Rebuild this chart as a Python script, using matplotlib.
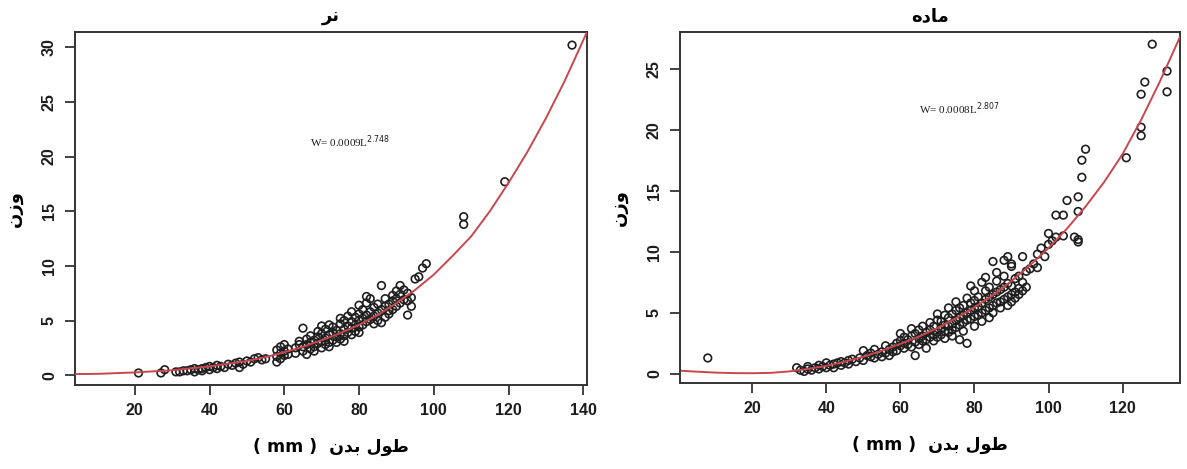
import matplotlib
matplotlib.use("Agg")
import matplotlib.pyplot as plt
import numpy as np

plt.rcParams['font.family'] = ['Liberation Sans', 'DejaVu Sans']

# ---- data ----
# left panel: males (نر)
male_len = [21, 27, 28, 31, 32, 33, 34, 35, 36, 36, 37, 38, 38, 39, 40, 40, 41, 42, 42, 43,
            44, 45, 46, 47, 48, 48, 49, 50, 51, 52, 53, 54, 55,
            58, 58, 58, 59, 59, 59, 60, 60, 60, 61, 61,
            63, 63, 64, 64, 65, 65, 65, 66, 66, 66, 67, 67, 67, 68, 68, 68, 69, 69, 69, 70, 70, 70, 70,
            71, 71, 71, 72, 72, 72, 72, 73, 73, 73, 74, 74, 74, 75, 75, 75, 75, 76, 76, 76, 76,
            77, 77, 77, 78, 78, 78, 78, 79, 79, 79, 80, 80, 80, 80, 80,
            81, 81, 81, 82, 82, 82, 82, 83, 83, 83, 84, 84, 84, 85, 85, 85, 86, 86, 86, 87, 87, 87,
            88, 88, 88, 89, 89, 89, 90, 90, 90, 91, 91, 91, 92, 92, 93, 93, 93, 94, 94,
            95, 96, 97, 98, 108, 108, 119, 137]
male_wt = [0.2, 0.2, 0.5, 0.3, 0.3, 0.4, 0.4, 0.5, 0.3, 0.6, 0.5, 0.6, 0.4, 0.7, 0.5, 0.8, 0.7, 0.6, 0.9, 0.8,
           0.7, 1.0, 0.9, 1.1, 0.7, 1.2, 1.0, 1.3, 1.2, 1.5, 1.6, 1.4, 1.5,
           1.2, 1.7, 2.3, 1.5, 2.0, 2.6, 1.8, 2.2, 2.8, 1.9, 2.4,
           2.5, 2.0, 2.8, 3.1, 4.3, 2.2, 2.6, 1.9, 2.8, 3.3, 2.4, 3.0, 3.6, 2.6, 3.2, 2.2, 2.9, 3.5, 4.0, 2.5, 3.1, 3.8, 4.5,
           2.8, 3.4, 4.2, 3.0, 3.7, 4.6, 2.6, 3.2, 3.9, 4.4, 3.0, 3.5, 4.1, 3.3, 3.8, 4.7, 5.2, 3.6, 4.2, 5.0, 3.1,
           3.9, 4.5, 5.4, 3.7, 4.3, 4.9, 5.8, 4.0, 4.6, 5.3, 4.4, 5.0, 5.6, 6.4, 3.9,
           4.6, 5.2, 6.0, 4.9, 5.5, 6.6, 7.2, 5.1, 5.8, 7.0, 4.7, 5.4, 6.2, 5.0, 5.7, 6.5, 4.8, 6.0, 8.2, 5.3, 6.3, 7.0,
           5.6, 6.5, 5.9, 6.0, 6.8, 7.3, 6.3, 7.0, 7.7, 6.6, 7.4, 8.2, 6.9, 7.8, 5.5, 6.8, 7.5, 6.3, 7.1,
           8.8, 9.0, 9.8, 10.2, 13.8, 14.5, 17.7, 30.2]

# right panel: females (ماده)
female_len = [8,
              32, 33, 34, 35, 35, 36, 37, 38, 38, 39, 40, 40, 41, 42, 42, 43, 44, 44, 45, 46, 46, 47,
              48, 49, 50, 50, 51, 52, 52, 53, 53, 54, 55, 55, 56, 56, 57, 57,
              58, 58, 59, 59, 60, 60, 60, 61, 61, 61, 62, 62, 63, 63, 63, 64, 64, 64, 65, 65, 65,
              66, 66, 66, 67, 67, 67, 68, 68, 68, 69, 69, 69, 70, 70, 70, 70,
              71, 71, 71, 72, 72, 72, 72, 73, 73, 73, 73, 74, 74, 74, 74, 75, 75, 75, 75,
              76, 76, 76, 76, 77, 77, 77, 77, 78, 78, 78, 78, 79, 79, 79, 79, 80, 80, 80, 80, 80,
              81, 81, 81, 82, 82, 82, 82, 83, 83, 83, 83, 84, 84, 84, 84, 85, 85, 85, 85,
              86, 86, 86, 86, 87, 87, 87, 88, 88, 88, 88, 89, 89, 89, 89, 90, 90, 90, 90, 90,
              91, 91, 91, 92, 92, 92, 93, 93, 93, 94, 94, 95, 96, 97, 97, 98, 99, 100, 100,
              101, 102, 102, 104, 104, 105, 107, 108, 108, 108, 108, 109, 109, 110,
              121, 125, 125, 125, 126, 128, 132, 132]
female_wt = [1.3,
             0.5, 0.3, 0.2, 0.4, 0.6, 0.3, 0.5, 0.7, 0.4, 0.6, 0.5, 0.9, 0.7, 0.8, 0.5, 0.9, 1.0, 0.7, 0.9, 1.1, 0.8, 1.2,
             1.0, 1.3, 1.1, 1.9, 1.5, 1.4, 1.7, 2.0, 1.3, 1.6, 1.8, 1.4, 2.3, 1.7, 2.0, 1.5,
             2.2, 1.8, 2.5, 1.9, 2.3, 2.7, 3.3, 2.1, 2.5, 3.0, 2.4, 2.8, 2.2, 3.1, 3.7, 2.6, 1.5, 3.3, 2.9, 2.4, 3.6,
             2.7, 3.1, 3.9, 2.8, 3.4, 2.1, 3.0, 3.6, 4.2, 3.2, 2.7, 3.9, 3.4, 3.0, 4.4, 4.9,
             3.2, 3.7, 4.3, 3.5, 4.0, 4.8, 2.9, 3.4, 3.9, 4.6, 5.4, 3.6, 4.1, 4.9, 3.1, 3.8, 4.4, 5.2, 5.9,
             4.0, 4.6, 5.4, 2.8, 4.2, 4.8, 5.6, 3.5, 4.4, 5.0, 6.2, 2.5, 4.5, 5.2, 5.8, 7.2, 4.7, 5.4, 6.0, 3.9, 6.8,
             4.8, 5.5, 6.3, 5.0, 5.8, 7.5, 4.3, 5.2, 6.1, 6.8, 7.9, 5.4, 6.3, 4.6, 7.1, 5.6, 6.5, 9.2, 5.0,
             5.8, 6.7, 7.6, 8.3, 5.9, 6.9, 5.4, 6.1, 7.1, 9.3, 8.0, 6.3, 7.4, 5.6, 9.6, 6.5, 7.2, 8.8, 9.0, 5.9,
             6.7, 7.8, 6.2, 7.0, 8.0, 6.5, 6.8, 7.5, 9.6, 7.1, 8.4, 8.6, 9.0, 8.7, 9.8, 10.3, 9.6, 10.6, 11.5,
             10.9, 11.2, 13.0, 13.0, 11.3, 14.2, 11.2, 13.3, 14.5, 11.0, 10.8, 16.1, 17.5, 18.4,
             17.7, 19.5, 20.2, 22.9, 23.9, 27.0, 24.8, 23.1]

# fitted curves
male_fit_x = [4, 10, 20, 30, 40, 50, 55, 60, 65, 70, 75, 80, 85, 90, 95, 100, 105, 110, 115, 120, 125, 130, 135, 141]
male_fit_y = [0.1, 0.12, 0.25, 0.45, 0.8, 1.3, 1.65, 2.1, 2.6, 3.2, 3.85, 4.6, 5.5, 6.6, 7.8, 9.2, 10.9, 12.7,
              15.0, 17.6, 20.4, 23.5, 26.9, 31.4]
female_fit_x = [1, 5, 10, 15, 20, 25, 30, 35, 40, 45, 50, 55, 60, 65, 70, 75, 80, 85, 90, 95, 100, 105, 110,
                115, 120, 125, 130, 135.5]
female_fit_y = [0.25, 0.18, 0.1, 0.06, 0.05, 0.08, 0.2, 0.4, 0.65, 1.0, 1.4, 1.9, 2.45, 3.05, 3.75, 4.55, 5.45,
                6.45, 7.6, 8.9, 10.3, 11.9, 13.7, 15.7, 18.0, 20.8, 23.9, 27.6]

x_ticks = [20, 40, 60, 80, 100, 120, 140]

# Arabic text in presentation forms, visual (left-to-right) order
title_male = "\uFEAE\uFEE7"                       # نر
title_female = "\uFEE9\uFEA9\uFE8E\uFEE3"          # ماده
y_label = "\uFEE5\uFEAF\uFEED"                     # وزن
x_label = "( mm )  \uFEE5\uFEAA\uFE91 \uFEDD\uFEEE\uFEC3"   # طول بدن ( mm )

fig = plt.figure(figsize=(11.87, 4.69), dpi=100)
W, H = 1187, 469
ax1 = fig.add_axes([75 / W, 1 - 385 / H, (587 - 75) / W, (385 - 32) / H])
ax2 = fig.add_axes([680 / W, 1 - 383 / H, (1180 - 680) / W, (383 - 32) / H])

line_col = "#c9474c"
edge_col = "#1e1e1e"


def draw_panel(ax, xs, ys, fx, fy, title, eq, eq_pos, xlim, ylim, yticks):
    ax.scatter(xs, ys, s=30, facecolors="none", edgecolors=edge_col, linewidths=1.2, zorder=2)
    ax.plot(fx, fy, color=line_col, lw=1.4, zorder=3)
    ax.set_xlim(*xlim)
    ax.set_ylim(*ylim)
    ax.set_xticks([t for t in x_ticks if xlim[0] <= t <= xlim[1]])
    ax.set_yticks(yticks)
    for s in ax.spines.values():
        s.set_color("#333333")
        s.set_linewidth(1.4)
    ax.tick_params(direction="out", length=7, width=1.3, color="#333333",
                   labelsize=11.5, labelcolor="#1c1c1c", pad=6)
    for lab in ax.get_xticklabels() + ax.get_yticklabels():
        lab.set_fontweight("bold")
    for lab in ax.get_yticklabels():
        lab.set_rotation(90)
        lab.set_va("center")
    ax.set_title(title, fontsize=13, fontweight="bold", pad=8, family=["DejaVu Sans"])
    ax.set_xlabel(x_label, fontsize=12.5, fontweight="bold", labelpad=14, family=["DejaVu Sans"])
    ax.set_ylabel(y_label, fontsize=13, fontweight="bold", labelpad=14, family=["DejaVu Sans"])
    ax.text(eq_pos[0], eq_pos[1], eq, fontsize=8, family=["Liberation Serif"], color="#1c1c1c")


draw_panel(ax1, male_len, male_wt, male_fit_x, male_fit_y, title_male,
           r"W= 0.0009L$^{2.748}$", (67, 20.9), (4, 141), (-0.9, 31.4), [0, 5, 10, 15, 20, 25, 30])
draw_panel(ax2, female_len, female_wt, female_fit_x, female_fit_y, title_female,
           r"W= 0.0008L$^{2.807}$", (65, 21.3), (0.5, 135.5), (-0.75, 28.0), [0, 5, 10, 15, 20, 25])

fig.savefig("out.png", dpi=100)
